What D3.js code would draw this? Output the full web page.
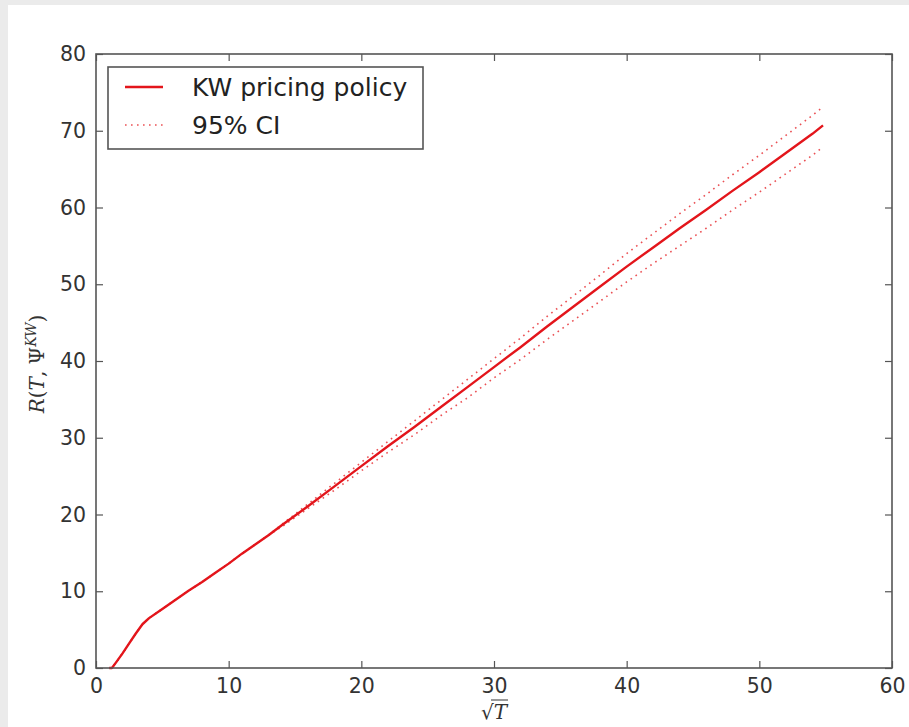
<!DOCTYPE html>
<html><head><meta charset="utf-8">
<script src="https://cdn.jsdelivr.net/npm/d3@7"></script>
<style>
html,body{margin:0;padding:0;background:#ebebeb;}
svg{display:block;}
</style></head>
<body>
<svg id="c" width="909" height="727"></svg>
<script>
// ---- data ----
const sqrtT = [1.0,1.2,1.5,2,2.5,3,3.5,4,5,6,7,8,9,10,11,12,13,14,16,18,20,22,24,26,28,30,32,34,36,38,40,42,44,46,48,50,52,54,54.8];
const regret = [0,0,0.7,1.9,3.2,4.5,5.7,6.5,7.7,8.9,10.1,11.2,12.4,13.6,14.9,16.1,17.3,18.6,21.1,23.7,26.3,28.9,31.4,34.0,36.6,39.2,41.8,44.5,47.1,49.7,52.3,54.8,57.3,59.7,62.2,64.6,67.1,69.6,70.7];
const ciUpper = [0,0,0.7,1.9,3.2,4.5,5.7,6.5,7.7,8.9,10.1,11.2,12.4,13.6,14.9,16.1,17.3,18.7,21.4,24.1,26.8,29.5,32.2,34.9,37.6,40.3,43.0,45.8,48.5,51.2,54.0,56.6,59.2,61.7,64.3,66.8,69.4,72.0,73.1];
const ciLower = [0,0,0.7,1.9,3.2,4.5,5.7,6.5,7.7,8.9,10.1,11.2,12.4,13.6,14.9,16.1,17.3,18.4,20.8,23.2,25.7,28.1,30.4,32.9,35.2,37.8,40.2,42.8,45.3,47.8,50.3,52.7,55.0,57.3,59.7,62.0,64.4,66.8,67.9];
const xTicks = [0,10,20,30,40,50,60];
const yTicks = [0,10,20,30,40,50,60,70,80];
const legendLabels = ["KW pricing policy","95% CI"];

// ---- layout ----
const svg = d3.select("#c");
svg.append("rect").attr("x",8).attr("y",5).attr("width",901).attr("height",722).attr("fill","#fff");

const L=96, R=892, T=54, B=668;
const x = d3.scaleLinear().domain([0,60]).range([L,R]);
const y = d3.scaleLinear().domain([0,80]).range([B,T]);
const red = "#e3151b";
const axisCol = "#555";
const font = "DejaVu Sans, sans-serif";

const g = svg.append("g");

// lines
const pts = (ys)=> sqrtT.map((v,i)=>[v,ys[i]]);
const line = d3.line().x(d=>x(d[0])).y(d=>y(d[1]));
g.append("path").attr("d",line(pts(ciUpper))).attr("fill","none").attr("stroke",red).attr("stroke-opacity",0.75)
  .attr("stroke-width",1.6).attr("stroke-dasharray","1.6,4.4");
g.append("path").attr("d",line(pts(ciLower))).attr("fill","none").attr("stroke",red).attr("stroke-opacity",0.75)
  .attr("stroke-width",1.6).attr("stroke-dasharray","1.6,4.4");
g.append("path").attr("d",line(pts(regret))).attr("fill","none").attr("stroke",red)
  .attr("stroke-width",2.4).attr("stroke-linejoin","round");

// axes (inward ticks, matplotlib classic)
const axB = d3.axisBottom(x).tickValues(xTicks).tickSize(-7).tickPadding(10).tickFormat(d3.format("d"));
const axT = d3.axisTop(x).tickValues(xTicks).tickSize(-7).tickFormat("");
const axLf = d3.axisLeft(y).tickValues(yTicks).tickSize(-7).tickPadding(10).tickFormat(d3.format("d"));
const axRt = d3.axisRight(y).tickValues(yTicks).tickSize(-7).tickFormat("");
function style(sel){
  sel.select(".domain").remove();
  sel.selectAll(".tick line").attr("stroke",axisCol).attr("stroke-width",1.2);
  sel.selectAll(".tick text").attr("fill","#333").style("font-family",font).style("font-size","20.5px");
}
svg.append("g").attr("transform",`translate(0,${B})`).call(axB).call(style);
svg.append("g").attr("transform",`translate(0,${T})`).call(axT).call(style);
svg.append("g").attr("transform",`translate(${L},0)`).call(axLf).call(style);
svg.append("g").attr("transform",`translate(${R},0)`).call(axRt).call(style);
svg.append("rect").attr("x",L).attr("y",T).attr("width",R-L).attr("height",B-T)
  .attr("fill","none").attr("stroke",axisCol).attr("stroke-width",1.6);

// axis labels
const yl = svg.append("text").attr("transform","translate(44,364) rotate(-90)").attr("text-anchor","middle")
  .style("font-family","DejaVu Serif, serif").style("font-size","20px").attr("fill","#333");
yl.append("tspan").attr("font-style","italic").text("R");
yl.append("tspan").text("(");
yl.append("tspan").attr("font-style","italic").text("T");
yl.append("tspan").text(", Ψ");
yl.append("tspan").attr("font-style","italic").attr("font-size","14px").attr("dy",-8).text("KW");
yl.append("tspan").attr("dy",8).text(")");

const xl = svg.append("g");
const xlt = xl.append("text").attr("x",494).attr("y",719).attr("text-anchor","middle")
  .style("font-family","DejaVu Serif, serif").style("font-size","20px").attr("fill","#333");
xlt.append("tspan").text("√");
xlt.append("tspan").attr("font-style","italic").text("T");
xl.append("line").attr("x1",491).attr("x2",508).attr("y1",700).attr("y2",700).attr("stroke","#333").attr("stroke-width",1);

// legend
const lg = svg.append("g");
lg.append("rect").attr("x",108).attr("y",67).attr("width",315).attr("height",82)
  .attr("fill","#fff").attr("stroke",axisCol).attr("stroke-width",1.6);
lg.append("line").attr("x1",125).attr("x2",163).attr("y1",87).attr("y2",87).attr("stroke",red).attr("stroke-width",2.4);
lg.append("line").attr("x1",125).attr("x2",163).attr("y1",125).attr("y2",125).attr("stroke",red).attr("stroke-opacity",0.75)
  .attr("stroke-width",1.6).attr("stroke-dasharray","1.6,4.4");
legendLabels.forEach((t,i)=>{
  lg.append("text").attr("x",192).attr("y",96+i*38).text(t)
    .style("font-family",font).style("font-size","25px").attr("fill","#222");
});
</script>
</body></html>
